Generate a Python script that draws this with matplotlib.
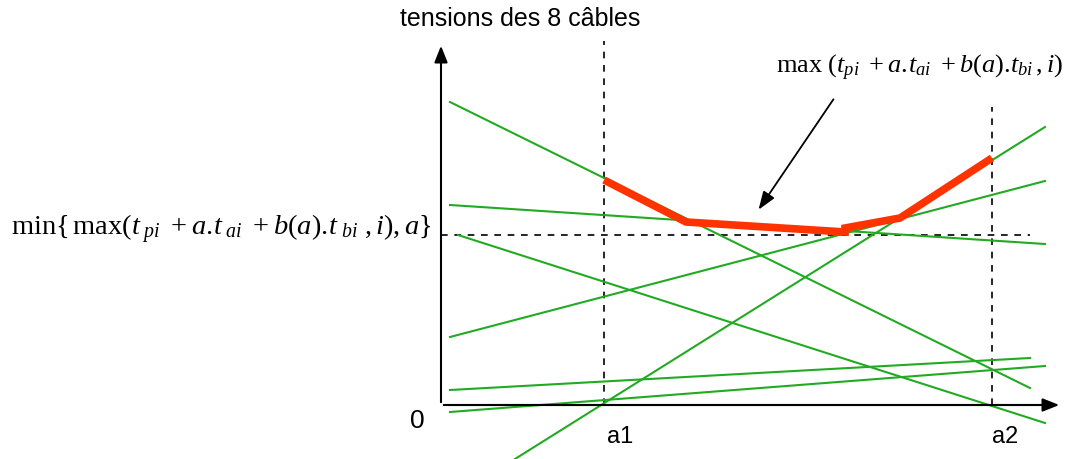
import matplotlib
matplotlib.use("Agg")
import matplotlib.pyplot as plt

plt.rcParams['font.family'] = ['Liberation Sans', 'DejaVu Sans']
plt.rcParams['mathtext.fontset'] = 'custom'
plt.rcParams['mathtext.rm'] = 'Liberation Serif'
plt.rcParams['mathtext.it'] = 'Liberation Serif:italic'

# tension lines of the 8 cables: (a start, t start, a end, t end)
cable_a0 = [9, 9, 17, 9, 74, 9, 9, 9]
cable_t0 = [303, 200, 170, 68, -54, 15, -7, 0]
cable_a1 = [589, 604, 604, 604, 604, 589, 604, 597]
cable_t1 = [17, 161, -18, 224, 278, 47, 39, 0]

# upper envelope between a1 and a2
env_a = [163, 245, 404, 404, 459, 551]
env_t = [225, 183, 173, 177, 187, 247]

a1, a2 = 163, 551
t_min = 170

green = '#22aa22'
red = '#ff3300'

fig = plt.figure(figsize=(10.86, 4.59), dpi=100)
ax = fig.add_axes([0, 0, 1, 1])
ax.set_xlim(-441, 645)
ax.set_ylim(-54, 405)
ax.axis('off')

# axes with arrows
ax.annotate('', xy=(0, 362), xytext=(0, 0),
            arrowprops=dict(arrowstyle='-|>,head_width=0.4,head_length=1.0', color='black', lw=1.5))
ax.annotate('', xy=(621, 0), xytext=(0, 0),
            arrowprops=dict(arrowstyle='-|>,head_width=0.4,head_length=1.0', color='black', lw=1.5))

# dashed guides
ax.plot([a1, a1], [0, 364], ls=(0, (4, 4)), color='black', lw=1.2)
ax.plot([a2, a2], [0, 298], ls=(0, (4, 4)), color='black', lw=1.2)
ax.plot([0, 589], [t_min, t_min], ls=(0, (4, 4)), color='black', lw=1.2)

for x0, y0, x1, y1 in zip(cable_a0, cable_t0, cable_a1, cable_t1):
    ax.plot([x0, x1], [y0, y1], color=green, lw=1.5)

ax.plot(env_a, env_t, color=red, lw=5.5, solid_capstyle='butt', solid_joinstyle='miter')

# arrow pointing to the envelope
ax.annotate('', xy=(316, 193), xytext=(394, 308),
            arrowprops=dict(arrowstyle='-|>,head_width=0.4,head_length=1.1', color='black', lw=1.3))

ax.text(79, 386, 'tensions des 8 câbles', fontsize=18, ha='center', va='center')
ax.text(-24, -16, '0', fontsize=19, ha='center', va='center')
ax.text(a1 + 16, -32, 'a1', fontsize=17, ha='center', va='center')
ax.text(a2 + 13, -32, 'a2', fontsize=17, ha='center', va='center')

ax.text(-10, 176, r'$\mathrm{min}\{\,\mathrm{max}(t_{\ pi}\ +a.\!t_{\ ai}\ +b(a).\!t_{\ bi}\ ,i),a\}$',
        fontsize=20.5, ha='right', va='center')
ax.text(479, 337, r'$\mathrm{max}\ (t_{pi}\ +a.\!t_{ai}\ +b(a).\!t_{bi}\,,i)$',
        fontsize=19, ha='center', va='center')

fig.savefig('out.png', dpi=100)
